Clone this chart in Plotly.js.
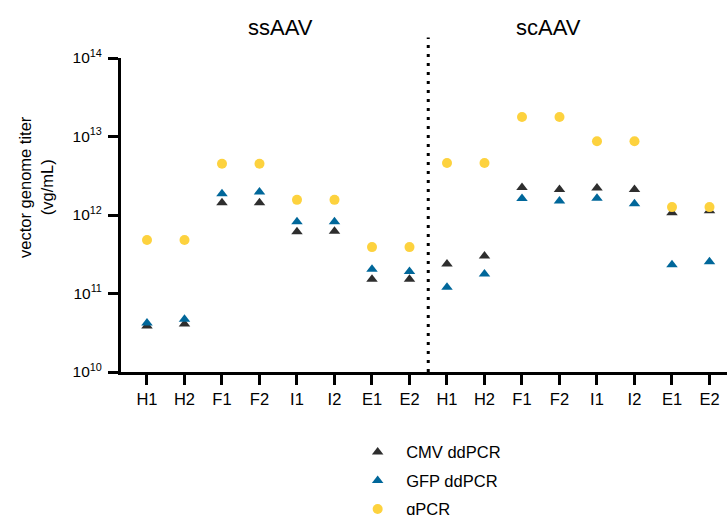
<!DOCTYPE html>
<html>
<head>
<meta charset="utf-8">
<script src="https://cdn.plot.ly/plotly-3.0.1.min.js"></script>
<style>html,body{margin:0;padding:0;background:#fff;}#chart{width:727px;height:515px;}</style>
</head>
<body>
<div id="chart"></div>
<script>
// Sample labels (16 positions: 8 ssAAV + 8 scAAV)
const sampleLabels = ["H1","H2","F1","F2","I1","I2","E1","E2","H1","H2","F1","F2","I1","I2","E1","E2"];
const positions = [0,1,2,3,4,5,6,7,8,9,10,11,12,13,14,15];
const groupNames = ["ssAAV", "scAAV"];
const groupTitleX = [3.57, 10.7];

// Titers (vg/mL)
const cmvDdPCR = [3.85e10, 4.1e10, 1.43e12, 1.43e12, 6.1e11, 6.2e11, 1.52e11, 1.52e11,
                  2.38e11, 3.0e11, 2.24e12, 2.11e12, 2.2e12, 2.11e12, 1.07e12, 1.13e12];
const gfpDdPCR = [4.2e10, 4.7e10, 1.87e12, 1.97e12, 8.2e11, 8.2e11, 2.04e11, 1.9e11,
                  1.2e11, 1.77e11, 1.62e12, 1.51e12, 1.64e12, 1.39e12, 2.33e11, 2.54e11];
const qPCR = [4.8e11, 4.8e11, 4.5e12, 4.5e12, 1.56e12, 1.56e12, 3.9e11, 3.9e11,
              4.6e12, 4.6e12, 1.77e13, 1.77e13, 8.7e12, 8.7e12, 1.26e12, 1.26e12];

const yTickVals = [1e10, 1e11, 1e12, 1e13, 1e14];
const yTickText = ["10<sup>10</sup>","10<sup>11</sup>","10<sup>12</sup>","10<sup>13</sup>","10<sup>14</sup>"];
const yTitle = "vector genome titer<br>(vg/mL)";

const FONT = "Liberation Sans, Arial, sans-serif";

const traces = [
  {x: positions, y: cmvDdPCR, name: "CMV ddPCR", type: "scatter", mode: "markers",
   legendgroup: "a",
   marker: {symbol: "triangle-up", size: 10, color: "#2e2e2e"}},
  {x: positions, y: gfpDdPCR, name: "GFP ddPCR", type: "scatter", mode: "markers",
   legendgroup: "b",
   marker: {symbol: "triangle-up", size: 10, color: "#00679a"}},
  {x: positions, y: qPCR, name: "qPCR", type: "scatter", mode: "markers",
   legendgroup: "c",
   marker: {symbol: "circle", size: 10, color: "#fdd23e"}}
];

const annotations = groupNames.map((g, i) => ({
  x: groupTitleX[i], xref: "x", y: 1.097, yref: "paper",
  text: g, showarrow: false, font: {family: FONT, size: 22, color: "#000"},
  xanchor: "center", yanchor: "middle"
}));
annotations.push({
  x: -0.14, xref: "paper", y: 0.59, yref: "paper", text: yTitle, textangle: -90,
  showarrow: false, font: {family: FONT, size: 16.5, color: "#000"},
  xanchor: "center", yanchor: "middle"
});

const layout = {
  width: 727, height: 515,
  margin: {l: 121, r: 0, t: 58, b: 143, autoexpand: false},
  paper_bgcolor: "#fff", plot_bgcolor: "#fff",
  font: {family: FONT, color: "#000"},
  showlegend: true,
  legend: {x: 0.3765, y: -0.2, xanchor: "left", yanchor: "top",
           font: {family: FONT, size: 16.5, color: "#000"},
           itemwidth: 47,
           tracegroupgap: 4, bgcolor: "rgba(0,0,0,0)"},
  xaxis: {
    range: [-0.693, 15.467], tickmode: "array", tickvals: positions, ticktext: sampleLabels,
    showgrid: false, zeroline: false, showline: true, linecolor: "#000", linewidth: 3,
    ticks: "outside", ticklen: 10, tickwidth: 3, tickcolor: "#000",
    tickfont: {family: FONT, size: 16.5, color: "#000"}, fixedrange: true
  },
  yaxis: {
    type: "log", range: [10, 14], tickmode: "array", tickvals: yTickVals, ticktext: yTickText,
    showgrid: false, zeroline: false, showline: true, linecolor: "#000", linewidth: 3,
    ticks: "outside", ticklen: 10, tickwidth: 3, tickcolor: "#000",
    tickfont: {family: FONT, size: 15.5, color: "#000"}, ticklabelstandoff: 3,
    fixedrange: true
  },
  shapes: [{type: "line", xref: "x", yref: "paper", x0: 7.5, x1: 7.5, y0: 0, y1: 1.065,
            line: {color: "#000", width: 3, dash: "3px,6px"}}],
  annotations: annotations
};

Plotly.newPlot("chart", traces, layout, {displayModeBar: false, staticPlot: true});
</script>
</body>
</html>
